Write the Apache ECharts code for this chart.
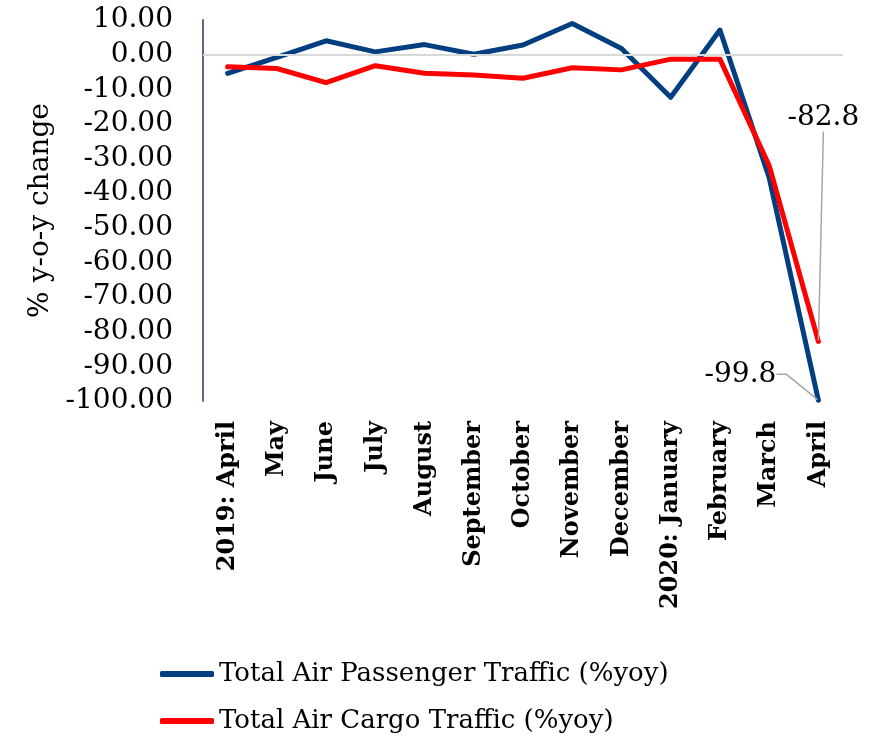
<!DOCTYPE html>
<html>
<head>
<meta charset="utf-8">
<script src="https://cdn.jsdelivr.net/npm/echarts@6/dist/echarts.min.js"></script>
<style>
  html, body { margin: 0; padding: 0; background: #fff; }
  #chart { width: 873px; height: 743px; }
</style>
</head>
<body>
<div id="chart"></div>
<script>
// Months from April 2019 to April 2020
const months = ['2019: April', 'May', 'June', 'July', 'August', 'September', 'October',
  'November', 'December', '2020: January', 'February', 'March', 'April'];

// Year-on-year change, %
const passengerYoy = [-5.4, -0.8, 4.0, 0.8, 2.9, 0.1, 2.8, 9.0, 1.8, -12.3, 7.1, -35.5, -99.8];
const cargoYoy = [-3.5, -4.0, -8.1, -3.2, -5.4, -5.9, -6.8, -3.8, -4.4, -1.3, -1.3, -32.0, -82.8];

const yTicks = { min: -100, max: 10, step: 10 };

const FONT = 'DejaVu Serif';
const lastIdx = months.length - 1;

// Only the final month carries a value label
function withEndLabel(values, labelOpts) {
  return values.map((v, i) => i === lastIdx
    ? { value: v, label: Object.assign({ show: true }, labelOpts) }
    : v);
}

const chart = echarts.init(document.getElementById('chart'));
chart.setOption({
  animation: false,
  backgroundColor: '#ffffff',
  grid: { left: 203, right: 30, top: 20, bottom: 342, containLabel: false },
  legend: {
    orient: 'vertical',
    left: 155,
    top: 656,
    icon: 'roundRect',
    itemWidth: 54,
    itemHeight: 6,
    itemGap: 21,
    textStyle: { fontFamily: FONT, fontSize: 26, color: '#000' },
    data: ['Total Air Passenger Traffic (%yoy)', 'Total Air Cargo Traffic (%yoy)']
  },
  xAxis: {
    type: 'category',
    data: months,
    boundaryGap: true,
    axisLine: { show: false },
    axisTick: { show: false },
    axisLabel: {
      rotate: 90,
      margin: 20,
      interval: 0,
      fontFamily: FONT,
      fontWeight: 'bold',
      fontSize: 24,
      color: '#000'
    },
    splitLine: { show: false }
  },
  yAxis: {
    type: 'value',
    min: yTicks.min,
    max: yTicks.max,
    interval: yTicks.step,
    name: '% y-o-y change',
    nameLocation: 'middle',
    nameRotate: 90,
    nameGap: 148,
    nameTextStyle: { fontFamily: FONT, fontSize: 28, color: '#000' },
    axisLine: { show: true, lineStyle: { color: '#5A6A85', width: 2 } },
    axisTick: { show: false },
    splitLine: { show: false },
    axisLabel: {
      margin: 30,
      fontFamily: FONT,
      fontSize: 28,
      color: '#000',
      formatter: v => v.toFixed(2)
    }
  },
  series: [
    {
      name: 'Total Air Passenger Traffic (%yoy)',
      type: 'line',
      data: withEndLabel(passengerYoy, {
        position: 'left', distance: 5,
        fontFamily: FONT, fontSize: 28, color: '#000'
      }),
      symbol: 'circle',
      symbolSize: 2,
      showSymbol: true,
      color: '#033F80',
      lineStyle: { color: '#033F80', width: 5, cap: 'round', join: 'round' },
      labelLayout: { dx: -36, dy: -26 },
      labelLine: { show: true, length2: 10, lineStyle: { color: '#A6A6A6', width: 1.5 } },
      markLine: {
        silent: true,
        symbol: 'none',
        label: { show: false },
        lineStyle: { color: '#D9D9D9', width: 2, type: 'solid' },
        data: [{ yAxis: 0 }]
      },
      z: 3
    },
    {
      name: 'Total Air Cargo Traffic (%yoy)',
      type: 'line',
      data: withEndLabel(cargoYoy, {
        position: 'top', distance: 5,
        fontFamily: FONT, fontSize: 28, color: '#000'
      }),
      symbol: 'circle',
      symbolSize: 2,
      showSymbol: true,
      color: '#FF0000',
      lineStyle: { color: '#FF0000', width: 5, cap: 'round', join: 'round' },
      labelLayout: { dx: 5, dy: -204 },
      labelLine: { show: true, lineStyle: { color: '#A6A6A6', width: 1.5 } },
      z: 4
    }
  ]
});
</script>
</body>
</html>
